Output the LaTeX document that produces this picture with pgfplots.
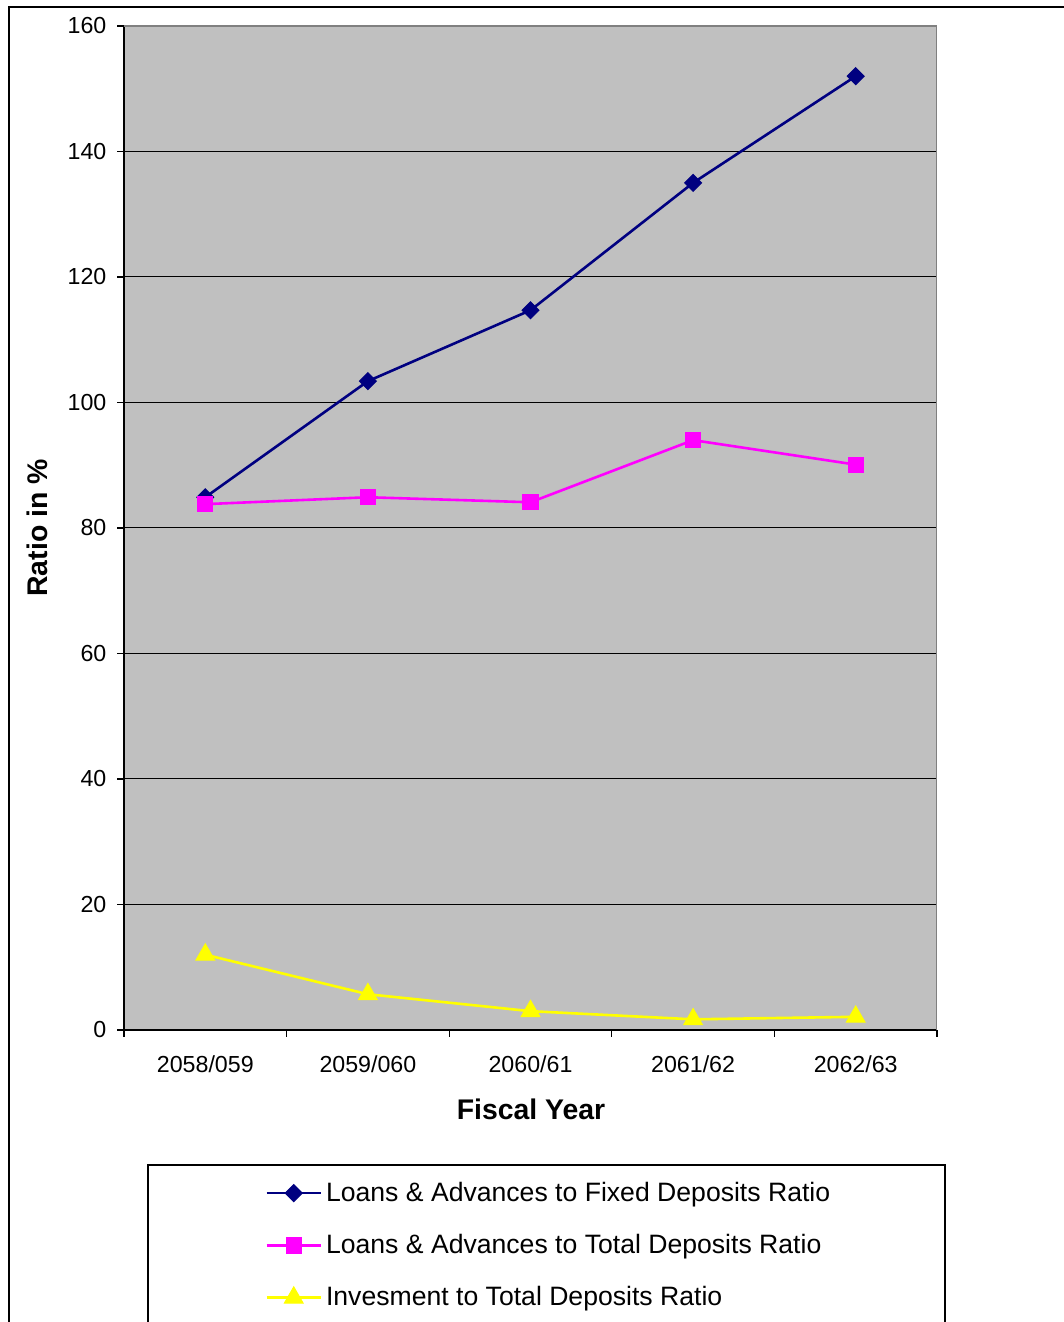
\documentclass[border=0pt]{standalone}
\usepackage{fontspec}
\setmainfont{Liberation Sans}
\usepackage{pgfplots}
\pgfplotsset{compat=1.18}
\definecolor{navyc}{HTML}{000080}
\definecolor{magc}{HTML}{FF00FF}
\definecolor{yelc}{HTML}{FFFF00}
\definecolor{bgc}{HTML}{C0C0C0}
\definecolor{bordc}{HTML}{808080}
\begin{document}
\begin{tikzpicture}
\path[use as bounding box] (0,0) rectangle (532pt,661pt);
\draw[line width=0.8pt] (4.5pt,-2pt) -- (4.5pt,657.5pt) -- (534pt,657.5pt);
\draw[line width=0.6pt] (74pt,-2pt) -- (74pt,78.5pt) -- (472.5pt,78.5pt) -- (472.5pt,-2pt);
\begin{axis}[
  at={(62pt,146pt)}, anchor=south west,
  scale only axis, width=406.5pt, height=502pt,
  xmin=-0.5, xmax=4.5, ymin=0, ymax=160,
  ytick={0,20,...,160},
  xtick={0,1,2,3,4},
  xticklabels={2058/059,2059/060,2060/61,2061/62,2062/63},
  minor xtick={-0.5,0.5,1.5,2.5,3.5,4.5},
  major x tick style={draw=none},
  minor x tick style={black, line width=0.6pt},
  major y tick style={black, line width=0.6pt},
  tick align=outside,
  major tick length=3.3pt, minor tick length=3.3pt,
  axis background/.style={fill=bgc},
  axis lines*=left,
  axis line style={-, black, line width=0.7pt},
  ymajorgrids, grid style={black, line width=0.5pt},
  /pgf/number format/assume math mode=true,
  ticklabel style={font=\fontsize{11.6}{13}\selectfont},
  xticklabel style={yshift=-6pt},
  yticklabel style={xshift=-2pt},
  xlabel={Fiscal Year},
  ylabel={Ratio in \%},
  xlabel style={font=\fontsize{14.2}{16}\selectfont\bfseries, at={(axis description cs:0.5006,-0.0787)}, anchor=center},
  ylabel style={font=\fontsize{14.2}{16}\selectfont\bfseries, at={(axis description cs:-0.107,0.5)}, anchor=center, rotate=0},
  legend style={at={(axis description cs:0.1735,-0.147)}, anchor=north west, draw=none, fill=none,
    font=\fontsize{13.3}{15}\selectfont, row sep=11pt, inner sep=0pt,
    nodes={inner sep=2pt}},
  legend cell align=left,
  legend image code/.code={\draw[mark repeat=2,mark phase=2] plot coordinates {(0pt,0pt) (13.5pt,0pt) (27pt,0pt)};},
]
\addplot[navyc, line width=1.3pt, mark=square*, mark size=3pt, mark options={rotate=45, solid, line width=0.5pt}]
  coordinates {(0,84.9) (1,103.4) (2,114.7) (3,135.0) (4,152.0)};
\addlegendentry{Loans \& Advances to Fixed Deposits Ratio}
\addplot[magc, line width=1.3pt, mark=square*, mark size=3.8pt, mark options={line width=0.5pt}]
  coordinates {(0,83.8) (1,84.9) (2,84.1) (3,94.0) (4,90.1)};
\addlegendentry{Loans \& Advances to Total Deposits Ratio}
\addplot[yelc, line width=1.3pt, mark=triangle*, mark size=5.4pt, mark options={line width=0.5pt}]
  coordinates {(0,12.0) (1,5.7) (2,3.0) (3,1.7) (4,2.1)};
\addlegendentry{Invesment to Total Deposits Ratio}
\draw[bordc, line width=0.9pt] (rel axis cs:0,1) -- (rel axis cs:1,1) -- (rel axis cs:1,0);
\end{axis}
\end{tikzpicture}
\end{document}
